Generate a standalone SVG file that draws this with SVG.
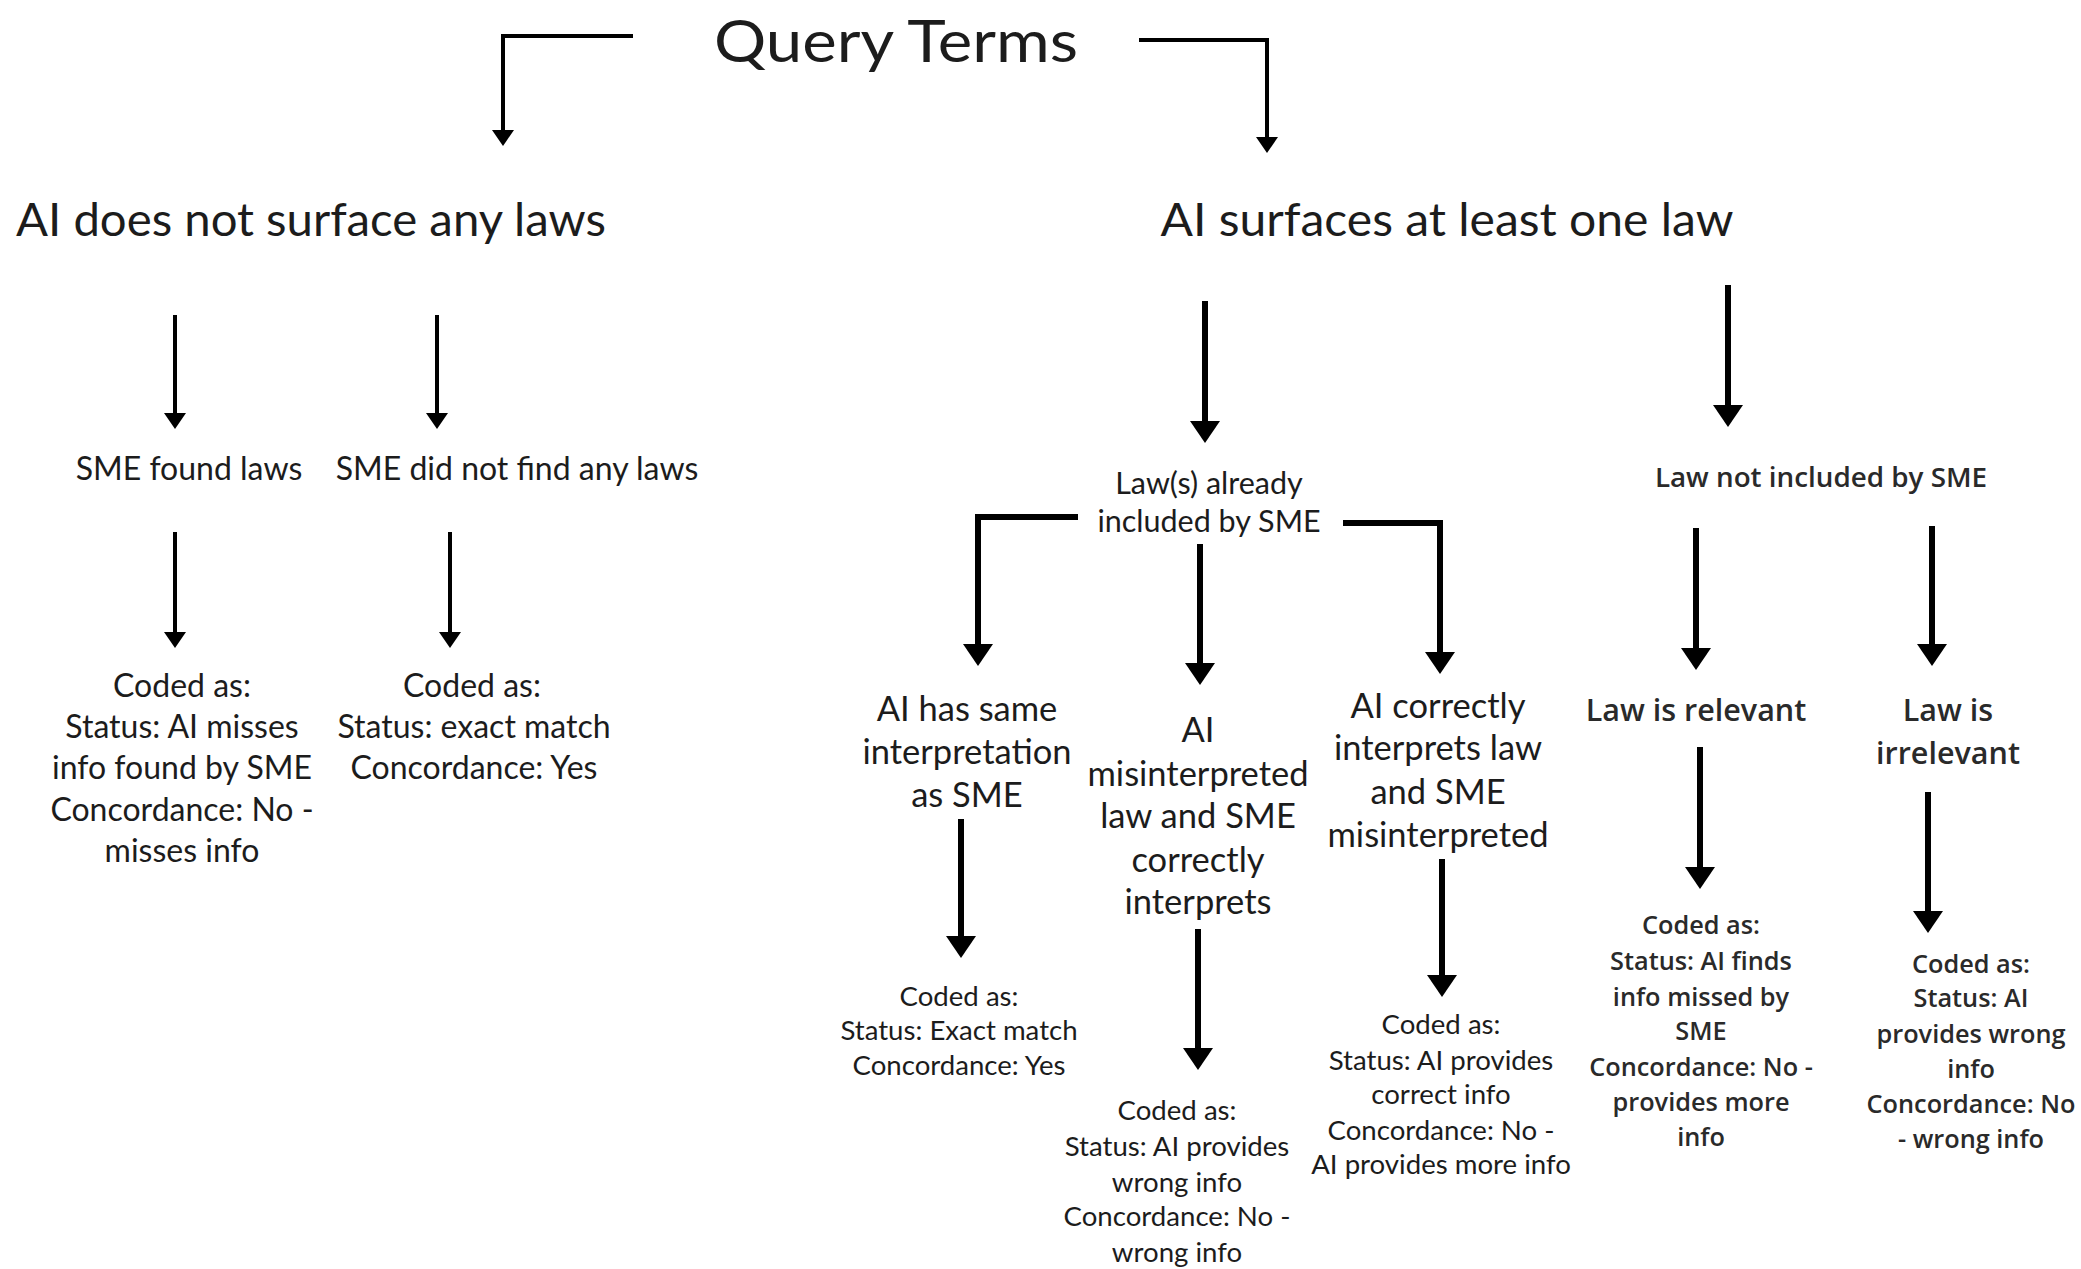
<svg xmlns="http://www.w3.org/2000/svg" width="2081" height="1269" viewBox="0 0 2081 1269">
<style>
  .t { font-family: Lato, "Liberation Sans", sans-serif; fill: #1c1c1c; text-anchor: middle; }
  .w { font-family: "Open Sans", "Liberation Sans", sans-serif; font-weight: 600; fill: #2a2a2a; text-anchor: middle; }
  .c1 { fill: none; stroke: #000; stroke-width: 4; }
  .c2 { fill: none; stroke: #000; stroke-width: 6; }
</style>
<defs>
  <marker id="a1" markerUnits="userSpaceOnUse" viewBox="0 0 16 22" markerWidth="16" markerHeight="22" refX="10" refY="11" orient="auto">
    <path d="M0,0 L16,11 L0,22 z" fill="#000"/>
  </marker>
  <marker id="a2" markerUnits="userSpaceOnUse" viewBox="0 0 22 30" markerWidth="22" markerHeight="30" refX="15" refY="15" orient="auto">
    <path d="M0,0 L22,15 L0,30 z" fill="#000"/>
  </marker>
</defs>
<rect width="2081" height="1269" fill="#fff"/>

<g id="connectors">
  <path class="c1" d="M633,36 H503 V140" marker-end="url(#a1)"/>
  <path class="c1" d="M1139,40 H1267 V147" marker-end="url(#a1)"/>
  <path class="c1" d="M175,315 V423" marker-end="url(#a1)"/>
  <path class="c1" d="M437,315 V423" marker-end="url(#a1)"/>
  <path class="c1" d="M175,532 V642" marker-end="url(#a1)"/>
  <path class="c1" d="M450,532 V642" marker-end="url(#a1)"/>
  <path class="c2" d="M1205,301 V436" marker-end="url(#a2)"/>
  <path class="c2" d="M1728,285 V420" marker-end="url(#a2)"/>
  <path class="c2" d="M1078,517 H978 V659" marker-end="url(#a2)"/>
  <path class="c2" d="M1200,544 V678" marker-end="url(#a2)"/>
  <path class="c2" d="M1343,523 H1440 V667" marker-end="url(#a2)"/>
  <path class="c2" d="M1696,528 V663" marker-end="url(#a2)"/>
  <path class="c2" d="M1932,526 V659" marker-end="url(#a2)"/>
  <path class="c2" d="M961,819 V951" marker-end="url(#a2)"/>
  <path class="c2" d="M1198,929 V1063" marker-end="url(#a2)"/>
  <path class="c2" d="M1442,859 V990" marker-end="url(#a2)"/>
  <path class="c2" d="M1700,747 V882" marker-end="url(#a2)"/>
  <path class="c2" d="M1928,792 V926" marker-end="url(#a2)"/>
</g>

<g id="query-terms"><text class="t" x="896" y="62" font-size="58" textLength="364" lengthAdjust="spacingAndGlyphs">Query Terms</text></g>

<g id="no-laws"><text class="t" x="311" y="236" font-size="46" textLength="590" lengthAdjust="spacingAndGlyphs">AI does not surface any laws</text></g>
<g id="at-least-one"><text class="t" x="1447" y="236" font-size="46" textLength="573" lengthAdjust="spacingAndGlyphs">AI surfaces at least one law</text></g>

<g id="sme-found"><text class="t" x="189" y="480" font-size="32">SME found laws</text></g>
<g id="sme-not-found"><text class="t" x="517" y="480" font-size="32">SME did not find any laws</text></g>

<g id="coded-misses" class="t" font-size="32">
  <text x="182" y="697">Coded as:</text>
  <text x="182" y="738">Status: AI misses</text>
  <text x="182" y="779">info found by SME</text>
  <text x="182" y="821">Concordance: No -</text>
  <text x="182" y="862">misses info</text>
</g>
<g id="coded-exact1" class="t" font-size="32">
  <text x="472" y="697">Coded as:</text>
  <text x="474" y="738">Status: exact match</text>
  <text x="474" y="779">Concordance: Yes</text>
</g>

<g id="already-included" class="t" font-size="30.5">
  <text x="1209" y="494">Law(s) already</text>
  <text x="1209" y="532">included by SME</text>
</g>
<g id="not-included"><text class="w" x="1821" y="487" font-size="27.8">Law not included by SME</text></g>

<g id="same-interp" class="t" font-size="34.5">
  <text x="967" y="721">AI has same</text>
  <text x="967" y="764">interpretation</text>
  <text x="967" y="807">as SME</text>
</g>
<g id="ai-misinterp" class="t" font-size="34.5">
  <text x="1198" y="742">AI</text>
  <text x="1198" y="786">misinterpreted</text>
  <text x="1198" y="828">law and SME</text>
  <text x="1198" y="872">correctly</text>
  <text x="1198" y="914">interprets</text>
</g>
<g id="sme-misinterp" class="t" font-size="34.5">
  <text x="1438" y="718">AI correctly</text>
  <text x="1438" y="760">interprets law</text>
  <text x="1438" y="804">and SME</text>
  <text x="1438" y="847">misinterpreted</text>
</g>
<g id="relevant"><text class="w" x="1696" y="721" font-size="30.5">Law is relevant</text></g>
<g id="irrelevant" class="w" font-size="30.5">
  <text x="1948" y="721">Law is</text>
  <text x="1948" y="764">irrelevant</text>
</g>

<g id="coded-exact2" class="t" font-size="27.6">
  <text x="959" y="1006">Coded as:</text>
  <text x="959" y="1040">Status: Exact match</text>
  <text x="959" y="1075">Concordance: Yes</text>
</g>
<g id="coded-wrong" class="t" font-size="27.6">
  <text x="1177" y="1120">Coded as:</text>
  <text x="1177" y="1156">Status: AI provides</text>
  <text x="1177" y="1192">wrong info</text>
  <text x="1177" y="1226">Concordance: No -</text>
  <text x="1177" y="1262">wrong info</text>
</g>
<g id="coded-correct" class="t" font-size="27.6">
  <text x="1441" y="1034">Coded as:</text>
  <text x="1441" y="1070">Status: AI provides</text>
  <text x="1441" y="1104">correct info</text>
  <text x="1441" y="1140">Concordance: No -</text>
  <text x="1441" y="1174">AI provides more info</text>
</g>
<g id="coded-finds" class="w" font-size="25.3">
  <text x="1701" y="934">Coded as:</text>
  <text x="1701" y="970">Status: AI finds</text>
  <text x="1701" y="1006">info missed by</text>
  <text x="1701" y="1040">SME</text>
  <text x="1701" y="1076">Concordance: No -</text>
  <text x="1701" y="1111">provides more</text>
  <text x="1701" y="1146">info</text>
</g>
<g id="coded-wronginfo" class="w" font-size="25.3">
  <text x="1971" y="973">Coded as:</text>
  <text x="1971" y="1007">Status: AI</text>
  <text x="1971" y="1043">provides wrong</text>
  <text x="1971" y="1078">info</text>
  <text x="1971" y="1113">Concordance: No</text>
  <text x="1971" y="1148">- wrong info</text>
</g>
</svg>
